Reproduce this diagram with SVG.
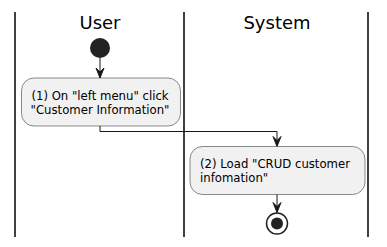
<svg xmlns="http://www.w3.org/2000/svg" width="387" height="247" viewBox="0 0 387 247">
  <defs>
    <style>
      .lane { stroke: #000000; stroke-width: 1.5; fill: none; }
      .title { font-family: "DejaVu Sans", sans-serif; font-size: 18px; fill: #000000; text-anchor: middle; }
      .act { fill: #F1F1F1; stroke: #181818; stroke-width: 0.5; }
      .label { font-family: "DejaVu Sans", sans-serif; font-size: 11.7px; fill: #000000; }
      .edge { stroke: #181818; stroke-width: 1; fill: none; }
      .head { fill: #181818; stroke: #181818; stroke-width: 1; }
    </style>
  </defs>

  <!-- swimlane borders and titles -->
  <g id="lanes">
    <line class="lane" x1="15" y1="12" x2="15" y2="237"/>
    <line class="lane" x1="184" y1="12" x2="184" y2="237"/>
    <line class="lane" x1="368" y1="12" x2="368" y2="237"/>
    <text class="title" x="100" y="29">User</text>
    <text class="title" x="277" y="29">System</text>
  </g>

  <!-- connectors -->
  <g id="connectors">
    <line class="edge" x1="100" y1="58" x2="100" y2="78"/>
    <polygon class="head" points="100,78 96,68 100,72 104,68"/>
    <polyline class="edge" points="100,126 100,131.5 277,131.5 277,146.5"/>
    <polygon class="head" points="277,146.5 273,136.5 277,140.5 281,136.5"/>
    <line class="edge" x1="277" y1="194" x2="277" y2="212.5"/>
    <polygon class="head" points="277,212.5 273,202.5 277,206.5 281,202.5"/>
  </g>

  <g id="start">
    <circle cx="100" cy="48" r="10" fill="#222222"/>
  </g>

  <g id="act1">
    <rect class="act" x="21.5" y="78" width="159" height="48" rx="12.5" ry="12.5"/>
    <text class="label" x="100" y="99.5" text-anchor="middle">(1) On "left menu" click</text>
    <text class="label" x="100" y="113.5" text-anchor="middle">"Customer Information"</text>
  </g>

  <g id="act2">
    <rect class="act" x="190" y="146.5" width="175" height="48" rx="12.5" ry="12.5"/>
    <text class="label" x="200" y="167.5">(2) Load "CRUD customer</text>
    <text class="label" x="200" y="181.5">infomation"</text>
  </g>

  <g id="end">
    <circle cx="277" cy="223.5" r="10.5" fill="none" stroke="#222222" stroke-width="1.5"/>
    <circle cx="277" cy="223.5" r="6" fill="#222222"/>
  </g>
</svg>
